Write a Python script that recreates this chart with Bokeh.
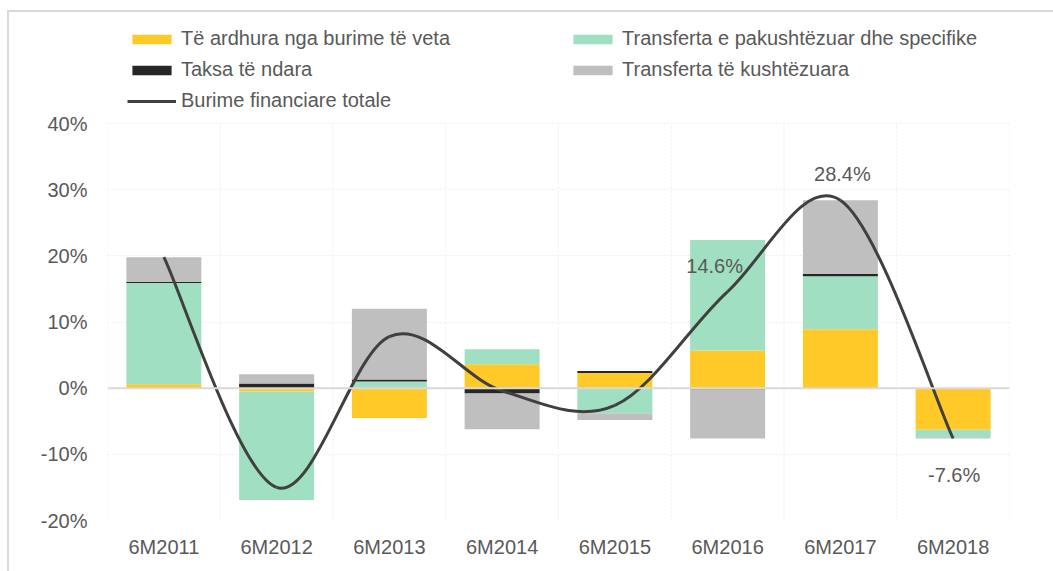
from bokeh.plotting import figure
from bokeh.models import (FactorRange, Range1d, Legend, LegendItem, Span,
                          FixedTicker, PrintfTickFormatter, ColumnDataSource)
from bokeh.core.properties import value
from bokeh.embed import file_html
from bokeh.resources import INLINE

# ---------------- data ----------------
categories = ["6M2011", "6M2012", "6M2013", "6M2014", "6M2015", "6M2016", "6M2017", "6M2018"]
own_revenue = [0.6, -0.5, -4.5, 3.6, 2.3, 5.7, 8.9, -6.3]        # Të ardhura nga burime të veta
uncond_transfers = [15.3, -16.4, 1.0, 2.3, -3.8, 16.7, 8.0, -1.1]  # Transferta e pakushtëzuar dhe specifike
shared_taxes = [0.2, 0.7, 0.3, -0.8, 0.3, -0.2, 0.4, 0.0]          # Taksa të ndara
cond_transfers = [3.7, 1.4, 10.7, -5.4, -1.0, -7.4, 11.1, -0.2]    # Transferta të kushtëzuara
total = [19.8, -15.0, 7.8, -0.4, -2.6, 14.6, 28.4, -7.6]           # Burime financiare totale
label_categories = ["6M2016", "6M2017", "6M2018"]
label_values = [14.6, 28.4, -7.6]
y_ticks = [-20, -10, 0, 10, 20, 30, 40]

series_names = ["Të ardhura nga burime të veta", "Transferta e pakushtëzuar dhe specifike",
                "Taksa të ndara", "Transferta të kushtëzuara"]
series_values = [own_revenue, uncond_transfers, shared_taxes, cond_transfers]
series_colors = ["#FFCA28", "#A0DFC1", "#262626", "#BFBFBF"]

FONT = "Liberation Sans"
FS = "20px"
TXT = "#595959"

# plot area: value axis -20..40 occupies 397 px; legend lives in 108 px of headroom above it
Y_MIN, Y_MAX = y_ticks[0], y_ticks[-1]
AXIS_PX, HEAD_PX = 397, 108
y_top = Y_MAX + HEAD_PX * (Y_MAX - Y_MIN) / AXIS_PX

p = figure(x_range=FactorRange(*categories), y_range=Range1d(Y_MIN, y_top),
           frame_width=902, frame_height=AXIS_PX + HEAD_PX,
           output_backend="svg", toolbar_location=None,
           min_border_left=107, min_border_right=44, min_border_top=15, min_border_bottom=51)
p.outline_line_color = None
# transparent outer canvas so that the chart-area border (left and top edges) shows through
p.border_fill_alpha = 0
p.background_fill_color = "white"
p.styles = {
    "background-color": "white",
    "background-image": "linear-gradient(#D9D9D9, #D9D9D9), linear-gradient(#D9D9D9, #D9D9D9)",
    "background-size": "2px 600px, 1100px 2px",
    "background-position": "7px 10px, 7px 10px",
    "background-repeat": "no-repeat",
}

# grid (ygrid up to 40%, vertical separators between categories)
p.ygrid.ticker = FixedTicker(ticks=y_ticks)
p.ygrid.grid_line_color = "#EDEDED"
p.ygrid.grid_line_dash = "2 2"
p.xgrid.grid_line_color = None
bounds = list(range(len(categories) + 1))
p.segment(x0=bounds, x1=bounds, y0=[Y_MIN] * len(bounds), y1=[Y_MAX] * len(bounds),
          line_color="#EDEDED", line_dash="2 2", line_width=1)

# stacked bars, positives and negatives stacked separately
pos = [0.0] * len(categories)
neg = [0.0] * len(categories)
bar_renderers = []
for name, vals, col in zip(series_names, series_values, series_colors):
    bottoms, tops = [], []
    for i, v in enumerate(vals):
        if v >= 0:
            bottoms.append(pos[i]); tops.append(pos[i] + v); pos[i] += v
        else:
            bottoms.append(neg[i]); tops.append(neg[i] + v); neg[i] += v
    src = ColumnDataSource(dict(x=categories, bottom=bottoms, top=tops))
    r = p.vbar(x="x", bottom="bottom", top="top", width=0.665, source=src,
               fill_color=col, line_color=None)
    bar_renderers.append(r)

# zero line
p.add_layout(Span(location=0, dimension="width", line_color="#D9D9D9", line_width=2))

# smoothed total line (Catmull-Rom style bezier segments from the data)
xs = [i + 0.5 for i in range(len(categories))]
n = len(total)
bx0, by0, bx1, by1, cx0, cy0, cx1, cy1 = [], [], [], [], [], [], [], []
for i in range(n - 1):
    x0p, y0p = (xs[i - 1], total[i - 1]) if i > 0 else (xs[i], total[i])
    x1p, y1p = xs[i], total[i]
    x2p, y2p = xs[i + 1], total[i + 1]
    x3p, y3p = (xs[i + 2], total[i + 2]) if i + 2 < n else (xs[i + 1], total[i + 1])
    bx0.append(x1p); by0.append(y1p); bx1.append(x2p); by1.append(y2p)
    cx0.append(x1p + (x2p - x0p) / 6); cy0.append(y1p + (y2p - y0p) / 6)
    cx1.append(x2p - (x3p - x1p) / 6); cy1.append(y2p - (y3p - y1p) / 6)
p.bezier(x0=bx0, y0=by0, x1=bx1, y1=by1, cx0=cx0, cy0=cy0, cx1=cx1, cy1=cy1,
         line_color="#404040", line_width=3)
# one-point line: draws nothing itself, only provides the legend swatch
legend_line = p.line(x=categories[:1], y=total[:1], line_color="#404040", line_width=3)

# data labels
lbl_src = ColumnDataSource(dict(x=label_categories, y=label_values,
                                t=[f"{v}%" for v in label_values],
                                dx=[-13, 2, 1], dy=[-26, -26, 37]))
p.text(x="x", y="y", text="t", x_offset="dx", y_offset="dy", source=lbl_src,
       text_align="center", text_baseline="middle", text_color=TXT,
       text_font=value(FONT), text_font_size=FS)

# axes
p.yaxis.ticker = FixedTicker(ticks=y_ticks)
p.yaxis.formatter = PrintfTickFormatter(format="%d%%")
for ax in (p.xaxis[0], p.yaxis[0]):
    ax.axis_line_color = None
    ax.major_tick_line_color = None
    ax.minor_tick_line_color = None
    ax.major_label_text_font = FONT
    ax.major_label_text_font_size = FS
    ax.major_label_text_color = TXT
p.yaxis.major_label_standoff = 14
p.xaxis.major_label_standoff = 9

# legends (two columns)
def make_legend(items, loc):
    lg = Legend(items=items, location=loc, orientation="vertical",
                label_text_font=FONT, label_text_font_size=FS, label_text_color=TXT,
                glyph_width=49, glyph_height=12, label_height=31, label_standoff=5,
                spacing=0, padding=0, margin=0, border_line_color=None,
                background_fill_alpha=0)
    p.add_layout(lg, "center")

make_legend([LegendItem(label=series_names[0], renderers=[bar_renderers[0]]),
             LegendItem(label=series_names[2], renderers=[bar_renderers[2]]),
             LegendItem(label="Burime financiare totale", renderers=[legend_line])],
            (20, 404))
make_legend([LegendItem(label=series_names[1], renderers=[bar_renderers[1]]),
             LegendItem(label=series_names[3], renderers=[bar_renderers[3]])],
            (461, 435))

open("out.html", "w").write(file_html(p, INLINE))
